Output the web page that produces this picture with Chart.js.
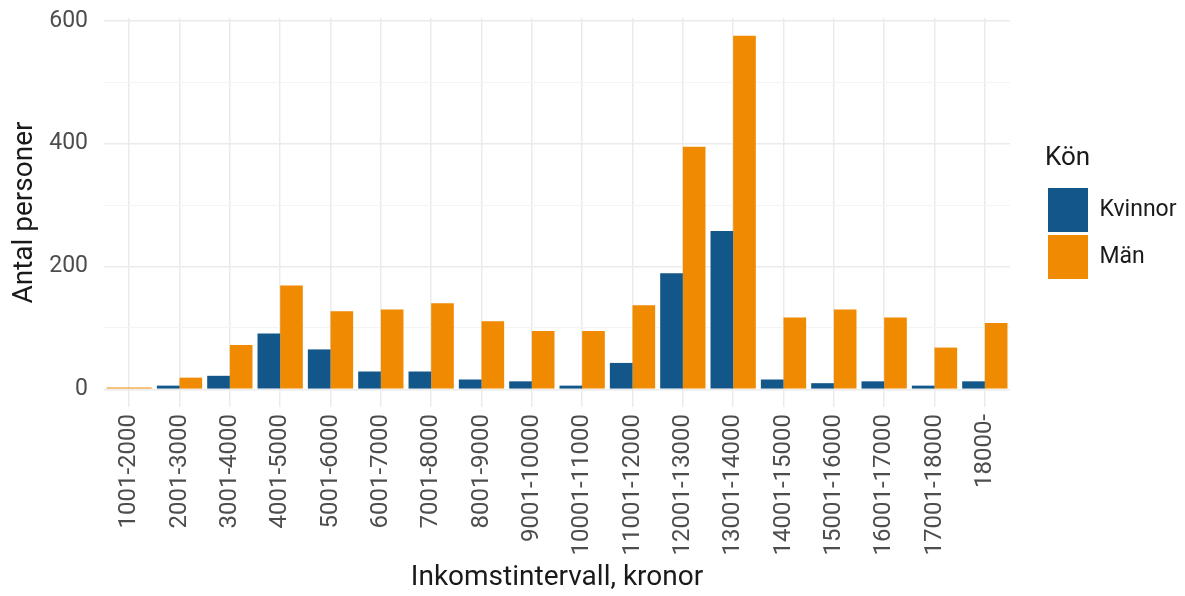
<!DOCTYPE html>
<html>
<head>
<meta charset="utf-8">
<script src="https://cdn.jsdelivr.net/npm/chart.js@4"></script>
<style>
  html, body { margin: 0; padding: 0; background: #fff; }
  #wrap { width: 1185px; height: 596px; }
</style>
</head>
<body>
<div id="wrap"><canvas id="incomeChart" width="1185" height="596"></canvas></div>
<script>
// Data
const categories = ['1001-2000', '2001-3000', '3001-4000', '4001-5000', '5001-6000', '6001-7000',
    '7001-8000', '8001-9000', '9001-10000', '10001-11000', '11001-12000', '12001-13000',
    '13001-14000', '14001-15000', '15001-16000', '16001-17000', '17001-18000', '18000-'];
const kvinnor = [null, 6, 22, 91, 65, 29, 29, 16, 13, 6, 43, 189, 258, 16, 10, 13, 6, 13];
const man = [3, 19, 72, 169, 127, 130, 140, 111, 95, 95, 137, 395, 576, 117, 130, 117, 68, 108];
const yTicks = [0, 100, 200, 300, 400, 500, 600];

const fontFamily = 'Roboto, "Noto Sans", sans-serif';

// Legend: fixed width, then moved a bit right and up like the ggplot guide
const legendPlace = {
    id: 'legendPlace',
    afterInit(chart) {
        const fit = chart.legend.fit;
        chart.legend.fit = function() {
            fit.call(this);
            this.width = 160;
        };
    },
    afterLayout(chart) {
        const lg = chart.legend;
        lg.left += 35;
        lg.right += 35;
        lg.top -= 93;
        lg.bottom -= 93;
    }
};

const ctx = document.getElementById('incomeChart').getContext('2d');
const incomeChart = new Chart(ctx, {
    type: 'bar',
    data: {
        labels: categories,
        datasets: [{
            label: 'Kvinnor',
            data: kvinnor,
            backgroundColor: '#13578a',
            borderWidth: 0,
            skipNull: true
        }, {
            label: 'Män',
            data: man,
            backgroundColor: '#f08a00',
            borderWidth: 0,
            skipNull: true
        }]
    },
    options: {
        responsive: false,
        animation: false,
        categoryPercentage: 0.9,
        barPercentage: 1.0,
        layout: {
            padding: { left: 0, right: 15, top: 18, bottom: 0 }
        },
        scales: {
            x: {
                offset: true,
                afterFit: function(scale) {
                    scale.height = 189;
                },
                grid: {
                    offset: false,
                    color: '#ebebeb',
                    lineWidth: 1.5,
                    drawTicks: false
                },
                border: { display: false },
                ticks: {
                    minRotation: 90,
                    maxRotation: 90,
                    autoSkip: false,
                    padding: 7,
                    color: '#4d4d4d',
                    font: { family: fontFamily, size: 24 }
                },
                title: {
                    display: true,
                    text: 'Inkomstintervall, kronor',
                    color: '#1a1a1a',
                    padding: { top: 0, bottom: 1 },
                    font: { family: fontFamily, size: 28 }
                }
            },
            y: {
                min: -28.8,
                max: 604.8,
                afterBuildTicks: function(scale) {
                    scale.ticks = yTicks.map(v => ({ value: v }));
                },
                afterFit: function(scale) {
                    scale.width = 104;
                    scale.paddingTop = 0;
                    scale.paddingBottom = 0;
                },
                grid: {
                    color: function(c) {
                        return (c.tick && c.tick.value % 200 === 0) ? '#ebebeb' : '#f4f4f4';
                    },
                    lineWidth: function(c) {
                        return (c.tick && c.tick.value % 200 === 0) ? 1.5 : 1;
                    },
                    drawTicks: false
                },
                border: { display: false },
                ticks: {
                    padding: 16,
                    color: '#4d4d4d',
                    font: { family: fontFamily, size: 23 },
                    callback: function(value) {
                        return value % 200 === 0 ? value : '';
                    }
                },
                title: {
                    display: true,
                    text: 'Antal personer',
                    color: '#1a1a1a',
                    padding: { top: 8, bottom: 0 },
                    font: { family: fontFamily, size: 28 }
                }
            }
        },
        plugins: {
            legend: {
                display: true,
                position: 'right',
                align: 'center',
                title: {
                    display: true,
                    text: 'Kön',
                    position: 'start',
                    color: '#1a1a1a',
                    padding: { top: 0, bottom: 8 },
                    font: { family: fontFamily, size: 26 }
                },
                labels: {
                    boxWidth: 40,
                    boxHeight: 44,
                    padding: 3,
                    color: '#1a1a1a',
                    font: { family: fontFamily, size: 23 }
                }
            },
            tooltip: { enabled: false }
        }
    },
    plugins: [legendPlace]
});
</script>
</body>
</html>
